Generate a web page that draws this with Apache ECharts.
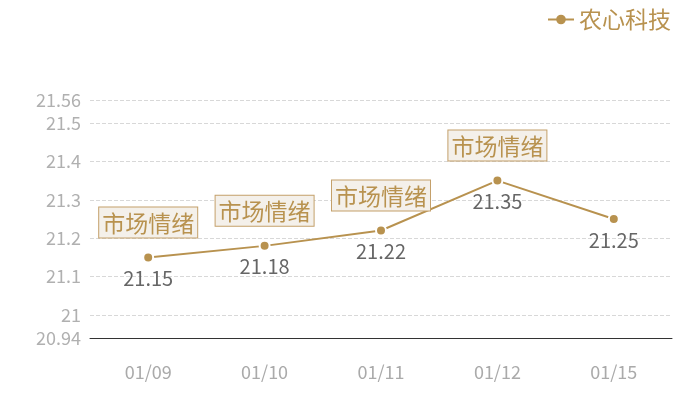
<!DOCTYPE html>
<html><head><meta charset="utf-8">
<script src="https://cdn.jsdelivr.net/npm/echarts@6/dist/echarts.min.js"></script>
<style>html,body{margin:0;padding:0;background:#fff}#c{width:700px;height:400px}</style>
</head><body><div id="c"></div>
<script>
var categories = ['01/09', '01/10', '01/11', '01/12', '01/15'];
var values = [21.15, 21.18, 21.22, 21.35, 21.25];
var seriesName = '农心科技';
var markText = '市场情绪';
var markIndexes = [0, 1, 2, 3];

var gold = '#b8924f';
var font = '"Microsoft YaHei","Noto Sans CJK SC","Noto Sans",sans-serif';
var chart = echarts.init(document.getElementById('c'));
chart.setOption({
  animation: false,
  legend: {
    right: 24, top: 3,
    itemWidth: 26, itemHeight: 12, itemGap: 6,
    itemStyle: {borderWidth: 0},
    textStyle: {color: gold, fontSize: 23, fontFamily: font},
    data: [seriesName]
  },
  grid: {left: 90, right: 28, top: 100, bottom: 62},
  xAxis: {
    type: 'category', data: categories, boundaryGap: true,
    axisLine: {lineStyle: {color: '#333', width: 1}},
    axisTick: {show: false},
    axisLabel: {color: '#aaa', fontSize: 18, margin: 25, fontFamily: font}
  },
  yAxis: {
    type: 'value', min: 20.94, max: 21.56,
    axisLine: {show: false}, axisTick: {show: false},
    splitLine: {lineStyle: {type: 'dashed', color: '#d8d8d8'}},
    axisLabel: {color: '#b0b0b0', fontSize: 18, margin: 9, fontFamily: font}
  },
  series: [{
    name: seriesName, type: 'line', data: values,
    symbol: 'circle', symbolSize: 10,
    lineStyle: {color: gold, width: 2},
    itemStyle: {color: gold, borderColor: '#fff', borderWidth: 2},
    label: {show: true, position: 'bottom', distance: 5, color: '#666', fontSize: 20, fontFamily: font},
    markPoint: {
      symbol: 'circle', symbolSize: 0,
      label: {
        show: true, position: 'top', distance: 20,
        formatter: markText,
        color: gold, fontSize: 23, fontFamily: font,
        backgroundColor: '#f4f0ea', borderColor: '#c4a06a', borderWidth: 1,
        padding: [4, 3, 3, 3]
      },
      data: markIndexes.map(function (i) { return {coord: [categories[i], values[i]], value: markText}; })
    }
  }]
});
</script></body></html>
